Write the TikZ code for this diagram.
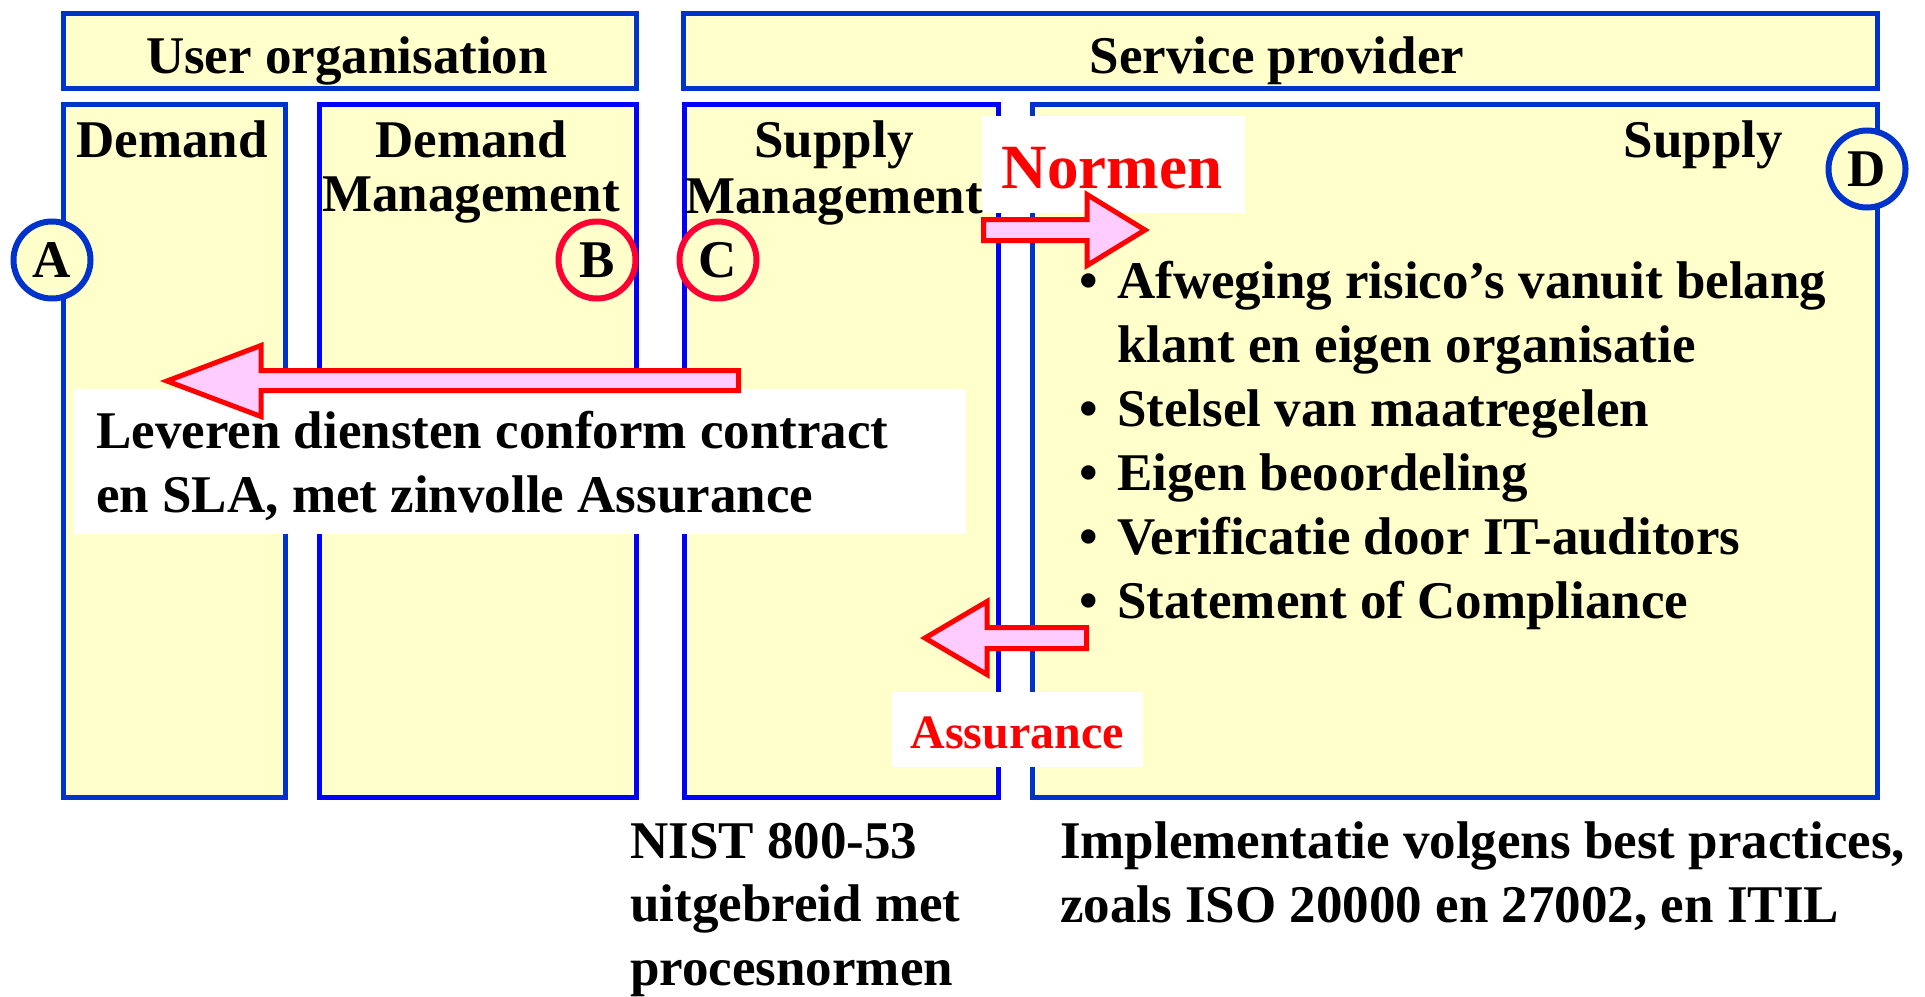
\documentclass[tikz,border=0pt]{standalone}
\usepackage{fontspec}
\setmainfont{Liberation Serif}
\definecolor{yel}{RGB}{255,255,204}
\definecolor{blA}{RGB}{0,51,204}
\definecolor{blB}{RGB}{0,0,255}
\definecolor{pnk}{RGB}{255,204,255}
\definecolor{crim}{RGB}{255,0,51}
\definecolor{rd}{RGB}{255,0,0}
\newcommand\cstk[2]{\vtop{\baselineskip=#1pt\lineskiplimit=-100pt\halign{\hfil##\hfil\cr#2\crcr}}}
\newcommand\lstk[2]{\vtop{\baselineskip=#1pt\lineskiplimit=-100pt\halign{##\hfil\cr#2\crcr}}}
\newcommand\bul{\hbox to 38pt{•\hss}}
\newcommand\ind{\hbox to 38pt{\hss}}
\begin{document}
\begin{tikzpicture}[x=1pt,y=-1pt,
  box/.style={draw, fill=yel, line width=5.5pt, inner sep=0pt, anchor=north west},
  wbox/.style={fill=white, draw=none, inner sep=0pt, anchor=north west},
  txt/.style={inner sep=0pt, font=\fontsize{53}{54}\selectfont\bfseries},
  lbl/.style={circle, draw, fill=yel, line width=6pt, minimum size=77pt, inner sep=0pt, font=\fontsize{53}{54}\selectfont\bfseries},
  blockarrow/.style={draw=rd, fill=pnk, line width=5pt, line join=miter}
]
\useasboundingbox (0,0) rectangle (1925,996);
\fill[white] (0,0) rectangle (1925,996);
% boxes
\node[box, draw=blA, minimum width=573pt, minimum height=75pt] (uo) at (60.5,10.5) {};
\node[box, draw=blA, minimum width=1194pt, minimum height=75pt] (sp) at (680.5,10.5) {};
\node[box, draw=blA, minimum width=222pt, minimum height=693pt] (dem) at (60.5,101.5) {};
\node[box, draw=blB, minimum width=317pt, minimum height=693pt] (dm) at (316.5,101.5) {};
\node[box, draw=blB, minimum width=314pt, minimum height=693pt] (sm) at (681.5,101.5) {};
\node[box, draw=blA, minimum width=845pt, minimum height=693pt] (sup) at (1029.5,101.5) {};
% circles
\node[lbl, draw=blA] (ca) at (52,260) {A};
\node[lbl, draw=crim] (cb) at (597,260) {B};
\node[lbl, draw=crim] (cc) at (718,260) {C};
\node[lbl, draw=blA] (cd) at (1867,169) {D};
% white boxes
\node[wbox, minimum width=892pt, minimum height=145pt] (wlev) at (74,389) {};
\node[wbox, minimum width=263pt, minimum height=97pt] (wnorm) at (982,116) {};
\node[wbox, minimum width=251pt, minimum height=75pt] (wass) at (892,692) {};
% block arrows
\draw[blockarrow] (738.5,370.5) -- (261,370.5) -- (261,345.5) -- (167,381) -- (261,416.5) -- (261,390.5) -- (738.5,390.5) -- cycle;
\draw[blockarrow] (983.5,219.5) -- (1087,219.5) -- (1087,194.5) -- (1145,230) -- (1087,265.5) -- (1087,240.5) -- (983.5,240.5) -- cycle;
\draw[blockarrow] (1086.5,627.5) -- (987,627.5) -- (987,601.5) -- (925,638) -- (987,674.5) -- (987,648.5) -- (1086.5,648.5) -- cycle;
% texts
\node[txt, anchor=base] (tuo) at (347,73) {User organisation};
\node[txt, anchor=base] (tsp) at (1277,73) {Service provider};
\node[txt, anchor=base] (tdem) at (172,157) {Demand};
\node[txt, anchor=base] (tdm) at (471,157) {\cstk{54}{Demand\cr Management}};
\node[txt, anchor=base] (tsm) at (834,157) {\cstk{56}{Supply\cr Management}};
\node[txt, anchor=base east] (tsup) at (1783,157) {Supply};
\node[txt, anchor=base, text=rd, font=\fontsize{63}{64}\selectfont\bfseries] (tnorm) at (1112,188) {Normen};
\node[txt, anchor=base west] (list) at (1079,298) {\lstk{64}{\bul Afweging risico’s vanuit belang\cr
\ind klant en eigen organisatie\cr
\bul Stelsel van maatregelen\cr
\bul Eigen beoordeling\cr
\bul Verificatie door IT-auditors\cr
\bul Statement of Compliance}};
\node[txt, anchor=base west] (lev) at (96,448) {\lstk{64}{Leveren diensten conform contract\cr en SLA, met zinvolle Assurance}};
\node[txt, anchor=base, text=rd, font=\fontsize{48}{50}\selectfont\bfseries] (tass) at (1017,748) {Assurance};
\node[txt, anchor=base west] (nist) at (630,858) {\lstk{63.5}{NIST 800-53\cr uitgebreid met\cr procesnormen}};
\node[txt, anchor=base west] (impl) at (1060,858) {\lstk{64}{Implementatie volgens best practices,\cr zoals ISO 20000 en 27002, en ITIL}};
\end{tikzpicture}
\end{document}
